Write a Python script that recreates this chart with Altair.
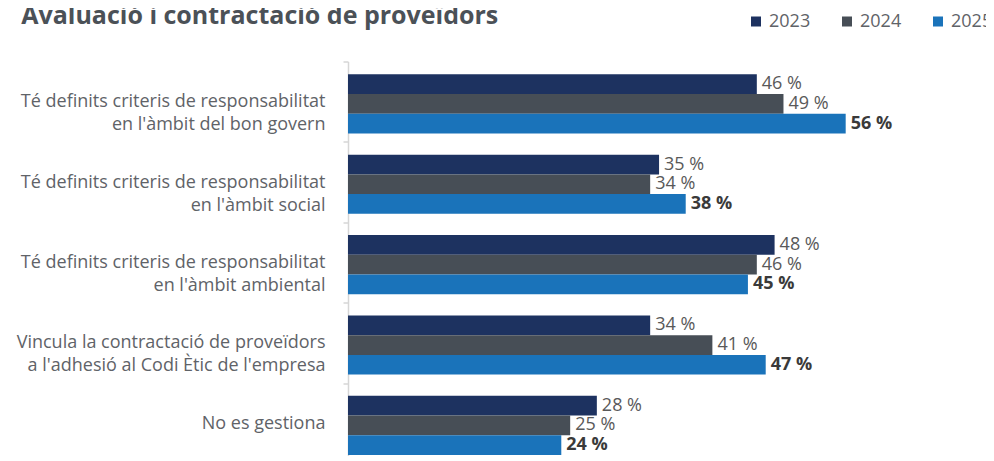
import altair as alt
import pandas as pd

categories = [
    "Té definits criteris de responsabilitat\nen l'àmbit del bon govern",
    "Té definits criteris de responsabilitat\nen l'àmbit social",
    "Té definits criteris de responsabilitat\nen l'àmbit ambiental",
    "Vincula la contractació de proveïdors\na l'adhesió al Codi Ètic de l'empresa",
    "No es gestiona ",
]
years = ["2023", "2024", "2025"]
values_2023 = [46, 35, 48, 34, 28]
values_2024 = [49, 34, 46, 41, 25]
values_2025 = [56, 38, 45, 47, 24]
colors = ["#1d3260", "#474e56", "#1a73ba"]

rows = []
for yr, vals in zip(years, [values_2023, values_2024, values_2025]):
    for c, v in zip(categories, vals):
        rows.append({"cat": c, "year": yr, "value": v})
df = pd.DataFrame(rows)

FONT = "Open Sans"

y_enc = alt.Y(
    "cat:N", sort=categories, title=None,
    scale=alt.Scale(paddingInner=0, paddingOuter=0),
    axis=alt.Axis(
        labelExpr="split(datum.label, '\\n')",
        labelFontSize=18, labelFont=FONT, labelColor="#5f6368",
        labelLineHeight=23, labelPadding=18, labelLimit=400,
        tickBand="extent", tickSize=5, tickColor="#d6d6d6", tickWidth=1.5,
        domainColor="#d6d6d6", domainWidth=1.5,
    ),
)
yoff = alt.YOffset("year:N", sort=years,
                   scale=alt.Scale(paddingInner=0, paddingOuter=0.54, align=0.6))
x_enc = alt.X("value:Q", axis=None, scale=alt.Scale(domain=[0, 71]))

bars = alt.Chart(df).mark_bar(opacity=1).encode(
    x=x_enc, y=y_enc, yOffset=yoff,
    color=alt.Color(
        "year:N", sort=years,
        scale=alt.Scale(domain=years, range=colors),
        legend=alt.Legend(
            title=None, orient="none", direction="horizontal",
            legendX=399, legendY=-49,
            symbolType="square", symbolSize=100, symbolStrokeWidth=0,
            labelFontSize=18, labelFont=FONT, labelColor="#5f6368",
            labelOffset=4, columnPadding=27,
        ),
    ),
)

base_text = alt.Chart(df).transform_calculate(lbl="datum.value + ' %'")

text_norm = base_text.transform_filter("datum.year != '2025'").mark_text(
    align="left", baseline="middle", dx=5, fontSize=18, font=FONT, color="#595959"
).encode(x=x_enc, y=alt.Y("cat:N", sort=categories), yOffset=yoff, text="lbl:N")

text_bold = base_text.transform_filter("datum.year == '2025'").mark_text(
    align="left", baseline="middle", dx=5, fontSize=18, font=FONT,
    fontWeight="bold", color="#3a3a3a"
).encode(x=x_enc, y=alt.Y("cat:N", sort=categories), yOffset=yoff, text="lbl:N")

chart = alt.layer(bars, text_norm, text_bold).properties(
    width=631, height=402,
    autosize=alt.AutoSizeParams(type="none"),
    padding={"left": 340, "top": 53.5, "right": 7, "bottom": -8},
    title=alt.TitleParams(
        "Avaluació i contractació de proveïdors",
        anchor="start", frame="bounds", dx=5, fontSize=25, font=FONT,
        fontWeight="bold", color="#4b5157", offset=-16,
    ),
).configure_view(stroke=None)

chart.save("out.html", embed_options={"renderer": "svg", "actions": False})
